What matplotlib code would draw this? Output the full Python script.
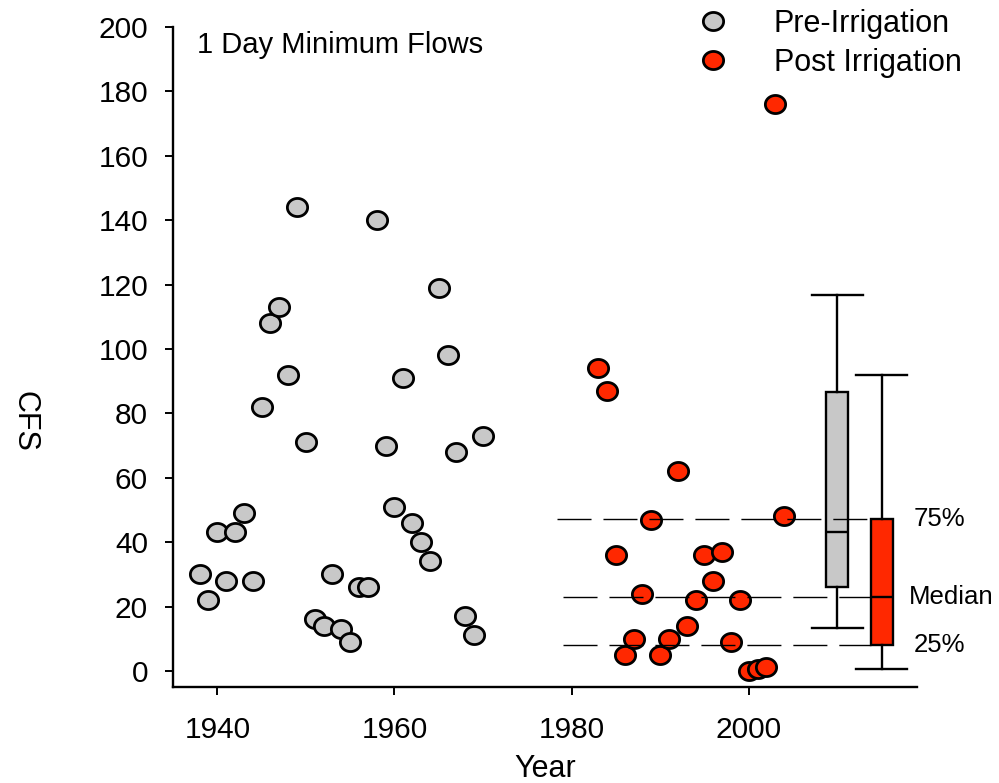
import numpy as np
import matplotlib
matplotlib.use("Agg")
import matplotlib.pyplot as plt
from matplotlib.path import Path

plt.rcParams['font.family'] = ['Liberation Sans', 'DejaVu Sans']

pre_years = list(range(1938, 1971))
pre_cfs = [30, 22, 43, 28, 43, 49, 28, 82, 108, 113, 92, 144, 71, 16, 14, 30,
           13, 9, 26, 26, 140, 70, 51, 91, 46, 40, 34, 119, 98, 68, 17, 11, 73]
post_years = list(range(1983, 2005))
post_cfs = [94, 87, 36, 5, 10, 24, 47, 5, 10, 62, 14, 22, 36, 28, 37, 9, 22,
            0, 0.5, 1.3, 176, 48]
box_positions = [2010, 2015]
quartile_labels = ["75%", "Median", "25%"]

gray = "#C8C8C8"
red = "#FF2800"

# elliptical marker (slightly wider than tall)
t = np.linspace(0, 2 * np.pi, 60)
ell = Path(np.column_stack([0.56 * np.cos(t), 0.5 * np.sin(t)]), closed=True)

fig = plt.figure(figsize=(9.99, 7.83), dpi=100)
ax = fig.add_axes([0.1732, 0.1226, 0.7448, 0.843])

MS, MEW = 14.6, 2.0
h1, = ax.plot(pre_years, pre_cfs, ls='none', marker=ell, ms=MS, mfc=gray,
              mec='black', mew=MEW, zorder=3, label='Pre-Irrigation')
h2, = ax.plot(post_years, post_cfs, ls='none', marker=ell, ms=MS, mfc=red,
              mec='black', mew=MEW, zorder=3, label='Post Irrigation')

def stats(vals):
    v = np.asarray(vals, dtype=float)
    q10, q25, q50, q75, q90 = np.percentile(v, [10, 25, 50, 75, 90], method='weibull')
    return dict(med=q50, q1=q25, q3=q75, whislo=q10, whishi=q90, fliers=[])

st = [stats(pre_cfs), stats(post_cfs)]
bp = ax.bxp(st, positions=box_positions, widths=2.5, patch_artist=True,
            showfliers=False, manage_ticks=False,
            boxprops=dict(lw=1.7, edgecolor='black'),
            medianprops=dict(color='black', lw=1.7),
            whiskerprops=dict(color='black', lw=1.7),
            capprops=dict(color='black', lw=1.7), capwidths=5.8)
for patch, c in zip(bp['boxes'], [gray, red]):
    patch.set_facecolor(c)
for k in ['boxes', 'medians', 'whiskers', 'caps']:
    for a in bp[k]:
        a.set_zorder(2)

# dashed reference lines for post-irrigation quartiles
post_st = st[1]
box_left = box_positions[1] - 1.25
for yv, x0 in zip([post_st['q3'], post_st['med'], post_st['q1']], [1978.4, 1979.0, 1979.0]):
    ax.plot([x0, box_left], [yv, yv], color='black', lw=1.0,
            dashes=(24.5, 8.6), zorder=4)
for yv, lab, xo in zip([post_st['q3'], post_st['med'], post_st['q1']], quartile_labels,
                       [2018.65, 2018.1, 2018.65]):
    ax.text(xo, yv, lab, fontsize=18.5, va='center', ha='left', clip_on=False)

ax.set_xlim(1935, 2019)
ax.set_ylim(-5, 200)
ax.set_xticks([1940, 1960, 1980, 2000])
ax.set_yticks(range(0, 201, 20))
ax.spines['top'].set_visible(False)
ax.spines['right'].set_visible(False)
for s in ['left', 'bottom']:
    ax.spines[s].set_linewidth(1.7)
ax.tick_params(axis='both', direction='out', length=6, width=1.4, labelsize=21.5)
ax.tick_params(axis='y', pad=12)
ax.tick_params(axis='x', pad=15)

ax.text(0.032, 0.961, "1 Day Minimum Flows", transform=ax.transAxes,
        fontsize=21, va='baseline', ha='left')
ax.set_xlabel("Year", fontsize=22)
ax.xaxis.set_label_coords(0.5, -(777 - 687) / 660)
ax.xaxis.label.set_va('baseline')
ax.text(-0.199, 0.402, "CFS", transform=ax.transAxes, rotation=270,
        fontsize=22, va='center', ha='center')

fig.legend(handles=[h1, h2], loc='upper left', bbox_to_anchor=(682 / 999, 1 - 9 / 783),
           frameon=False, fontsize=22, handlelength=2.0, handletextpad=1.0,
           labelspacing=0.3, borderpad=0, borderaxespad=0)

fig.savefig("out.png", dpi=100)
